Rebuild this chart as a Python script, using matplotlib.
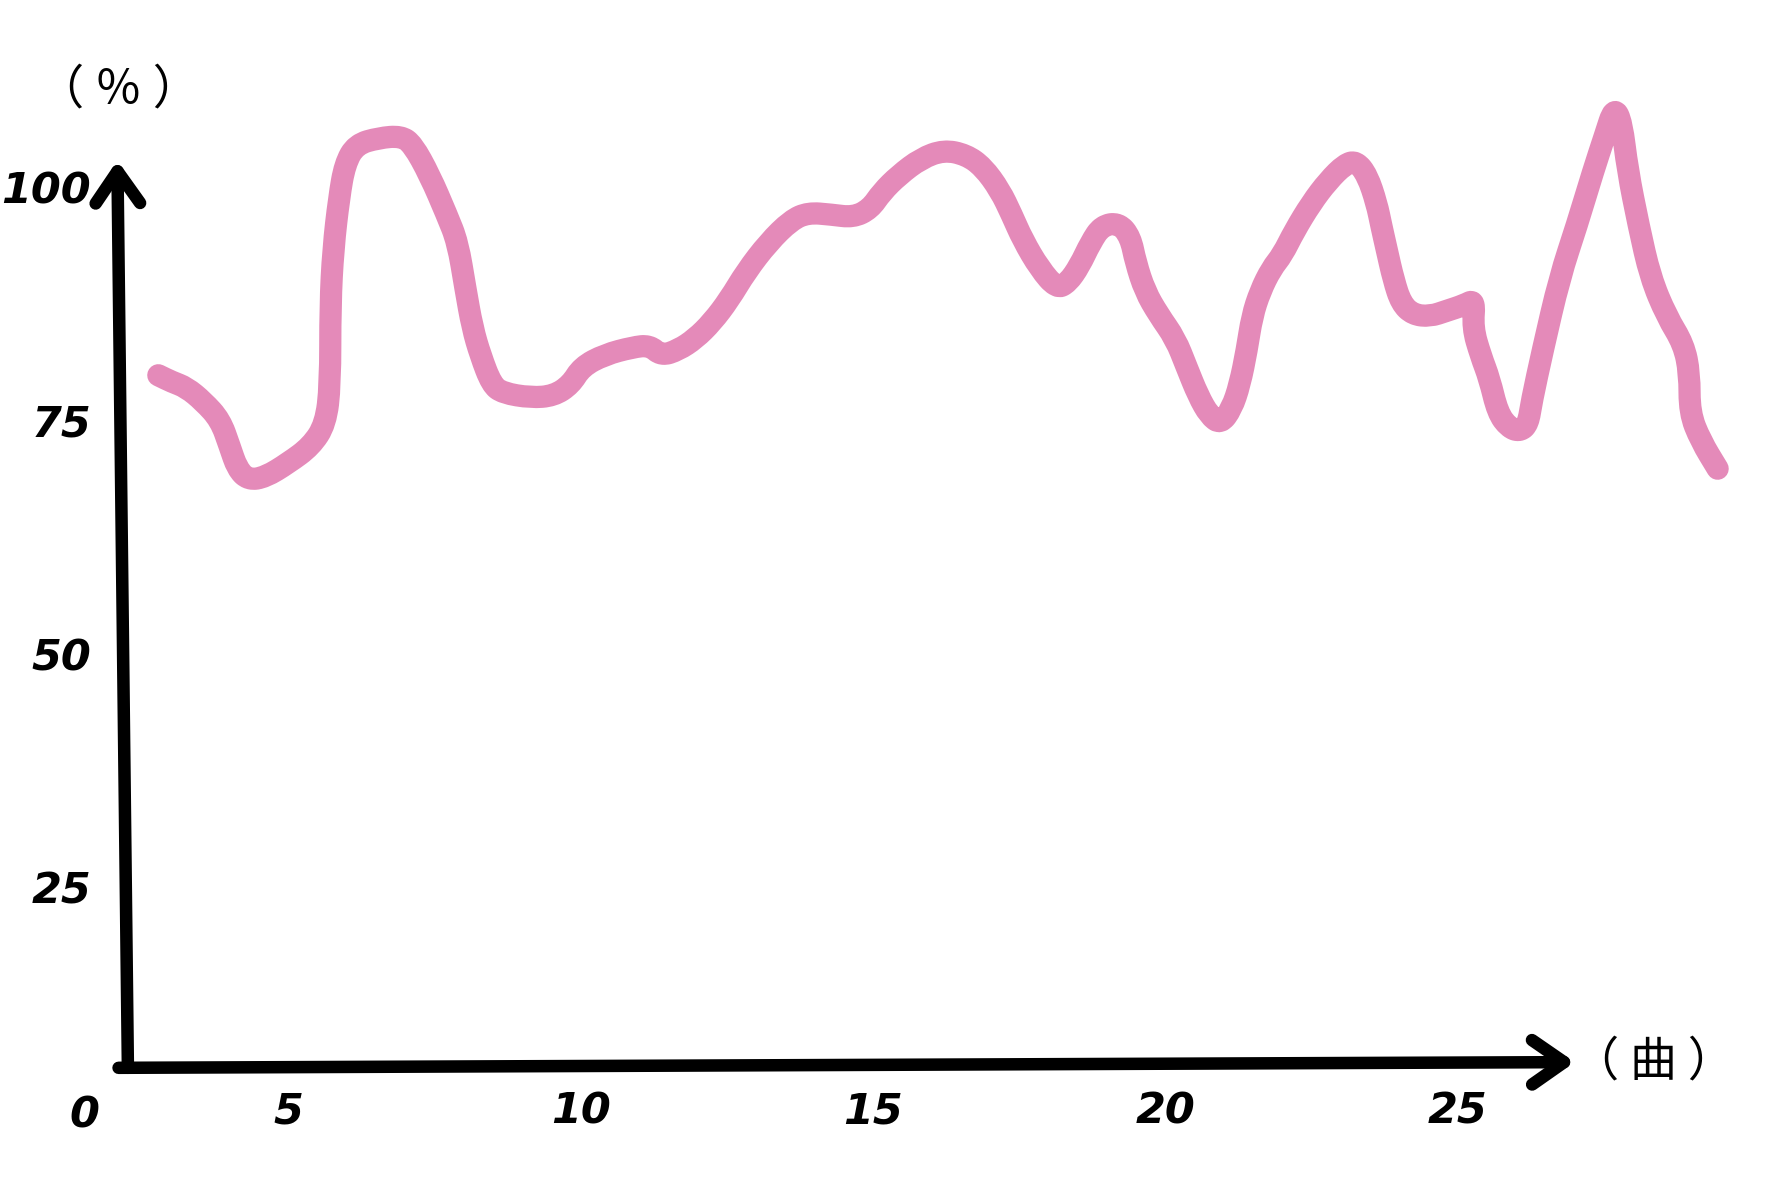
import numpy as np
import matplotlib.pyplot as plt
from matplotlib.path import Path
from matplotlib.patches import PathPatch

# song number (x) and percentage (y)
song = [2.78, 3.01, 3.26, 3.55, 3.84, 4.00, 4.13, 4.32, 4.61, 5.00,
        5.39, 5.64, 5.72, 5.72, 5.77, 5.87, 5.97, 6.16, 6.55, 6.93,
        7.13, 7.42, 7.71, 7.90, 8.03, 8.15, 8.29, 8.48, 8.67, 9.15,
        9.54, 9.83, 10.02, 10.41, 10.89, 11.18, 11.38, 11.67, 11.96, 12.25,
        12.54, 12.83, 13.21, 13.60, 13.89, 14.28, 14.66, 14.95, 15.15, 15.44,
        15.82, 16.21, 16.59, 16.88, 17.17, 17.37, 17.56, 17.85, 18.14, 18.33,
        18.53, 18.72, 18.91, 19.20, 19.40, 19.49, 19.65, 19.88, 20.17, 20.36,
        20.56, 20.75, 20.94, 21.13, 21.27, 21.39, 21.48, 21.62, 21.81, 22.00,
        22.20, 22.49, 22.78, 23.07, 23.26, 23.45, 23.61, 23.69, 23.78, 23.90,
        24.03, 24.23, 24.52, 24.81, 25.10, 25.29, 25.25, 25.39, 25.54, 25.68,
        25.87, 26.06, 26.20, 26.26, 26.45, 26.74, 27.03, 27.32, 27.51, 27.67,
        27.80, 27.90, 28.09, 28.29, 28.57, 28.86, 28.96, 28.96, 29.15, 29.44]
pct = [79.8, 79.1, 78.5, 77.0, 75.0, 72.2, 69.8, 68.6, 68.9, 70.4,
       72.2, 74.6, 78.8, 87.3, 93.3, 98.8, 102.4, 104.5, 105.2, 105.4,
       104.5, 101.2, 97.0, 94.0, 89.1, 84.9, 81.9, 78.8, 77.9, 77.4,
       77.6, 78.8, 80.7, 82.0, 82.8, 83.0, 81.9, 82.5, 83.7, 85.5,
       87.9, 90.9, 94.0, 96.4, 97.2, 97.0, 96.7, 97.6, 99.4, 101.2,
       103.0, 103.9, 103.4, 102.1, 99.6, 97.0, 94.3, 91.2, 89.1, 89.7,
       91.5, 94.0, 95.8, 96.1, 94.6, 91.9, 88.8, 86.3, 83.7, 80.7,
       77.6, 75.5, 74.6, 76.2, 78.8, 82.5, 86.1, 88.8, 91.2, 92.7,
       95.2, 98.2, 100.6, 102.4, 102.7, 101.2, 98.2, 95.8, 93.3, 90.0,
       87.5, 86.3, 86.1, 86.7, 87.3, 87.9, 84.9, 81.9, 79.4, 75.8,
       74.2, 73.8, 74.6, 77.0, 82.5, 90.3, 95.8, 101.8, 105.4, 108.5,
       106.9, 101.8, 95.8, 90.3, 86.1, 83.1, 80.0, 75.8, 72.8, 69.8]

x_ticks = [5, 10, 15, 20, 25]
y_ticks = [25, 50, 75, 100]
y_unit = "（ ％ ）"
x_unit = "（ 曲 ）"

pink = "#E48AB9"
hand = dict(family="DejaVu Sans", style="italic", weight="bold", size=31)
cjk = ["Noto Sans CJK JP", "DejaVu Sans"]

fig = plt.figure(figsize=(17.72, 11.82), dpi=100)
ax = fig.add_axes([0.0702, 0.0966, 0.912, 0.846])
ax.set_xlim(2.2, 29.83)
ax.set_ylim(5.68, 112.7)
for s in ax.spines.values():
    s.set_visible(False)

# smooth pen stroke: quadratic curves through the midpoints of the read points
pts = np.column_stack([song, pct])
mids = (pts[:-1] + pts[1:]) / 2
verts = [pts[0], mids[0]]
codes = [Path.MOVETO, Path.LINETO]
for i in range(1, len(pts) - 1):
    verts += [pts[i], mids[i]]
    codes += [Path.CURVE3, Path.CURVE3]
verts.append(pts[-1])
codes.append(Path.LINETO)
stroke = PathPatch(Path(verts, codes), fill=False, edgecolor=pink, lw=16,
                   capstyle="round", joinstyle="round", clip_on=False, zorder=3)
ax.add_patch(stroke)

# hand-drawn axes with open arrow heads
arrow = dict(arrowstyle="->,head_length=1.15,head_width=0.8", lw=9,
             color="black", capstyle="round", joinstyle="round",
             mutation_scale=20, shrinkA=0, shrinkB=0)
ax.annotate("", xy=(2.08, 102.8), xytext=(2.26, 5.68), arrowprops=arrow,
            annotation_clip=False)
ax.annotate("", xy=(27.0, 6.29), xytext=(2.10, 5.68), arrowprops=arrow,
            annotation_clip=False)

ax.set_xticks(x_ticks)
ax.set_xticklabels([str(v) for v in x_ticks], **hand)
ax.set_yticks(y_ticks)
ax.set_yticklabels([str(v) for v in y_ticks], **hand)
ax.tick_params(length=0)
ax.tick_params(axis="x", pad=16)
ax.tick_params(axis="y", pad=24)
ax.text(1.52, 0.6, "0", ha="center", va="center", clip_on=False, **hand)

ax.text(2.10, 110.3, y_unit, ha="center", va="center", fontsize=34,
        family=cjk, clip_on=False)
ax.text(28.34, 6.29, x_unit, ha="center", va="center", fontsize=34,
        family=cjk, clip_on=False)

fig.savefig("out.png", dpi=100, facecolor="white")
